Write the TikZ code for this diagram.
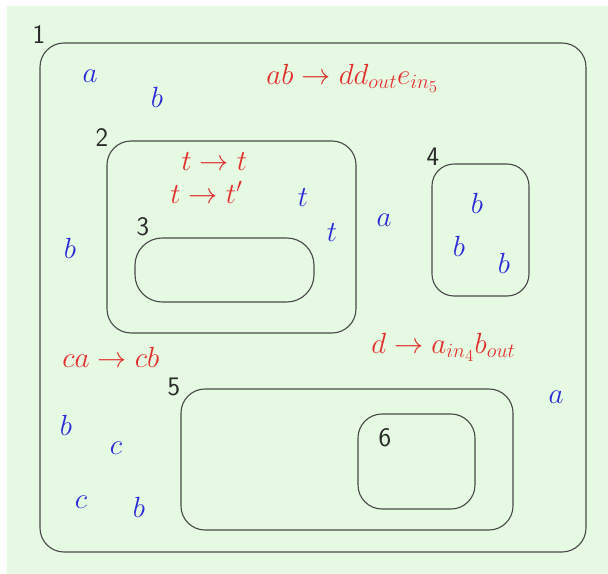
\documentclass[tikz,border=0pt]{standalone}
\definecolor{bggreen}{HTML}{E6FAE3}
\definecolor{linecolor}{HTML}{4A4A4A}
\definecolor{rulered}{HTML}{E2302C}
\definecolor{objblue}{HTML}{2B2BD6}
\definecolor{labelgray}{HTML}{2A2A2A}
\tikzset{
  membrane/.style={draw=linecolor, line width=0.8pt, rounded corners=0.6cm},
  memlabel/.style={font=\sffamily\fontsize{19}{22}\selectfont, text=labelgray, inner sep=0pt},
  obj/.style={font=\fontsize{20.74}{25}\selectfont, text=objblue, inner sep=0pt},
  rulepair/.style={font=\fontsize{20.74}{25}\selectfont, text=rulered, inner sep=0pt, anchor=base west}
}
\begin{document}
\begin{tikzpicture}[x=0.025cm,y=-0.025cm]
  \useasboundingbox (0,0) rectangle (608,574);
  \fill[bggreen] (7,6) rectangle (608,574);

  % Membranes.
  \draw[membrane] (40,43) rectangle (586,552);
  \draw[membrane] (107,141) rectangle (356,333);
  \draw[membrane, rounded corners=0.68cm] (135,238) rectangle (314,302);
  \draw[membrane, rounded corners=0.55cm] (432,164) rectangle (529,296);
  \draw[membrane] (181,389) rectangle (513,530);
  \draw[membrane] (358,414) rectangle (475,509);

  % Membrane labels.
  \node[memlabel] (l1) at (39,35) {1};
  \node[memlabel] (l2) at (102,138) {2};
  \node[memlabel] (l3) at (143,227) {3};
  \node[memlabel] (l4) at (433,157) {4};
  \node[memlabel] (l5) at (174,387) {5};
  \node[memlabel] (l6) at (385,438) {6};

  % Rules.
  \node[rulepair] (r1) at (266,84) {$ab\rightarrow dd_{out}e_{in_5}$};
  \node[rulepair] (r2) at (181,170) {$t\rightarrow t$};
  \node[rulepair] (r3) at (170,203) {$t\rightarrow t'$};
  \node[rulepair] (r4) at (371,353) {$d\rightarrow a_{in_4}b_{out}$};
  \node[rulepair] (r5) at (62,367) {$ca\rightarrow cb$};

  % Objects in membrane 1.
  \node[obj] (o1a) at (90,76) {$a$};
  \node[obj] (o1b) at (157,97) {$b$};
  \node[obj] (o1c) at (70,248) {$b$};
  \node[obj] (o1d) at (384,220) {$a$};
  \node[obj] (o1e) at (556,397) {$a$};
  \node[obj] (o1f) at (66,425) {$b$};
  \node[obj] (o1g) at (116,448) {$c$};
  \node[obj] (o1h) at (81,502) {$c$};
  \node[obj] (o1i) at (139,507) {$b$};

  % Objects in membrane 2.
  \node[obj] (o2a) at (303,198) {$t$};
  \node[obj] (o2b) at (332,233) {$t$};

  % Objects in membrane 4.
  \node[obj] (o4a) at (477,203) {$b$};
  \node[obj] (o4b) at (459,246) {$b$};
  \node[obj] (o4c) at (504,263) {$b$};

\end{tikzpicture}
\end{document}
